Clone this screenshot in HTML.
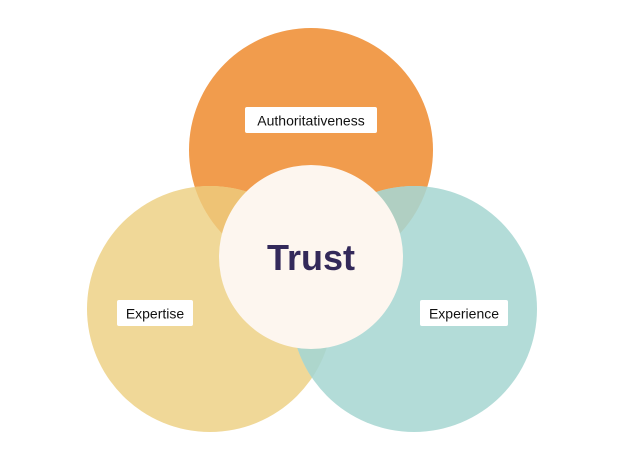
<!DOCTYPE html>
<html><head><style>
html,body{margin:0;padding:0;background:#fff;width:625px;height:449px;overflow:hidden}
svg{display:block}
</style></head><body>
<svg width="625" height="449" viewBox="0 0 625 449" xmlns="http://www.w3.org/2000/svg">
<defs>
<clipPath id="co"><circle cx="311" cy="150" r="122"/></clipPath>
<clipPath id="cy"><circle cx="210" cy="309" r="123"/></clipPath>
</defs>
<circle cx="311" cy="150" r="122" fill="#F19C4D"/>
<circle cx="210" cy="309" r="123" fill="#F0D898"/>
<circle cx="210" cy="309" r="123" fill="#EEC375" clip-path="url(#co)"/>
<circle cx="414" cy="309" r="123" fill="#B3DCD8"/>
<circle cx="414" cy="309" r="123" fill="#B0CFC2" clip-path="url(#co)"/>
<circle cx="414" cy="309" r="123" fill="#ADD6CC" clip-path="url(#cy)"/>
<circle cx="311" cy="257" r="92" fill="#FDF6EF"/>
<text x="311" y="270" text-anchor="middle" font-family="Liberation Sans, sans-serif" font-weight="bold" font-size="36" fill="#33295A">Trust</text>
<rect x="245" y="107" width="132" height="26" rx="2" fill="#fff"/>
<text x="311" y="125.5" text-anchor="middle" font-family="Liberation Sans, sans-serif" font-size="14" fill="#111">Authoritativeness</text>
<rect x="117" y="300" width="76" height="26" rx="2" fill="#fff"/>
<text x="155" y="318.5" text-anchor="middle" font-family="Liberation Sans, sans-serif" font-size="14" fill="#111">Expertise</text>
<rect x="420" y="300" width="88" height="26" rx="2" fill="#fff"/>
<text x="464" y="318.5" text-anchor="middle" font-family="Liberation Sans, sans-serif" font-size="14" fill="#111">Experience</text>
</svg>
</body></html>
